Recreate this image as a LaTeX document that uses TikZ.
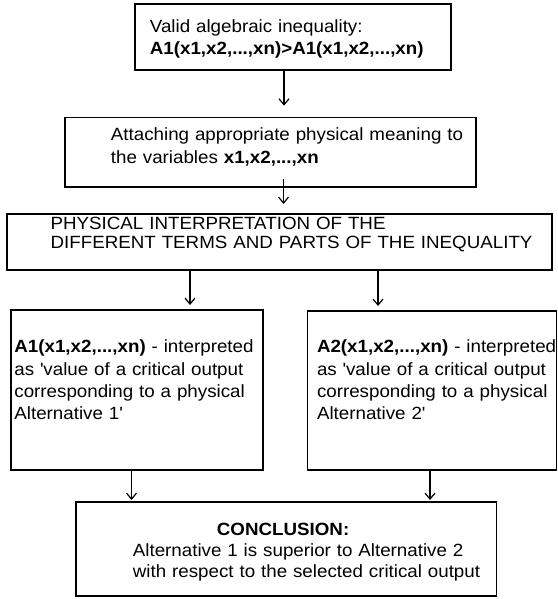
\documentclass[tikz,border=0pt]{standalone}
\usepackage{fontspec}
\setmainfont{Liberation Sans}[FakeStretch=1.06]
\usetikzlibrary{arrows.meta}
\newcommand{\indentby}[1]{\raggedright\leftskip=#1\relax\parindent=0pt\relax\parskip=0pt\relax}
\begin{document}
\begin{tikzpicture}[x=1pt,y=-1pt]
\tikzset{
  box/.style={draw, line width=1.8pt, inner sep=0pt, anchor=north west,
    font=\fontsize{17.7}{22.2}\selectfont},
  arr/.style={line width=1.2pt, -{Straight Barb[length=6pt,width=10pt,line width=1.2pt]}}
}
\useasboundingbox[fill=white] (0,0) rectangle (557,599);

\node[box, text width=316pt, text height=28.4pt, text depth=37.3pt] (b1) at (134,3.3)
  {\indentby{15pt}\mbox{Valid algebraic inequality:}\par \mbox{\textbf{A1(x1,x2,...,xn)>A1(x1,x2,...,xn)}}\par};

\node[box, text width=411pt, text height=23.3pt, text depth=45.7pt] (b2) at (64,116.7)
  {\indentby{46pt}\mbox{Attaching appropriate physical meaning to}\par \mbox{the variables \textbf{x1,x2,...,xn}}\par};

\node[box, text width=544.9pt, text height=15.3pt, text depth=41pt,
      font=\fontsize{17.7}{19.5}\selectfont] (b3) at (6.4,213)
  {\indentby{43.3pt}\mbox{PHYSICAL INTERPRETATION OF THE}\par \mbox{DIFFERENT TERMS AND PARTS OF THE INEQUALITY}\par};

\node[box, text width=252pt, text height=43pt, text depth=117pt] (b4) at (10,309)
  {\indentby{3.5pt}\mbox{\textbf{A1(x1,x2,...,xn)} - interpreted}\par
   \mbox{as \textquotesingle value of a critical output}\par
   \mbox{corresponding to a physical}\par
   \mbox{Alternative 1\textquotesingle}\par};

\node[box, text width=248.9pt, text height=42pt, text depth=117pt] (b5) at (306.6,310)
  {\indentby{9.5pt}\mbox{\textbf{A2(x1,x2,...,xn)} - interpreted}\par
   \mbox{as \textquotesingle value of a critical output}\par
   \mbox{corresponding to a physical}\par
   \mbox{Alternative 2\textquotesingle}\par};

\node[box, text width=420.3pt, text height=34pt, text depth=60pt,
      font=\fontsize{17.7}{21}\selectfont] (b6) at (75.3,501)
  {\indentby{56.7pt}\mbox{\hspace*{84pt}\textbf{CONCLUSION:}}\par
   \mbox{Alternative 1 is superior to Alternative 2}\par
   \mbox{with respect to the selected critical output}\par};

\coordinate (xa) at (284,0);
\coordinate (xb) at (283.5,0);
\coordinate (xc) at (190,0);
\coordinate (xd) at (378,0);
\coordinate (xe) at (131.5,0);
\coordinate (xf) at (430,0);

\draw[arr, shorten >=11pt] (b1.south -| xa) -- (b2.north -| xa);
\draw[arr, shorten <=-9pt, shorten >=9pt] (b2.south -| xb) -- (b3.north -| xb);
\draw[arr, shorten >=4pt] (b3.south -| xc) -- (b4.north -| xc);
\draw[arr, shorten >=4pt] (b3.south -| xd) -- (b5.north -| xd);
\draw[arr, shorten >=1pt] (b4.south -| xe) -- (b6.north -| xe);
\draw[arr, shorten >=1pt] (b5.south -| xf) -- (b6.north -| xf);
\end{tikzpicture}
\end{document}
